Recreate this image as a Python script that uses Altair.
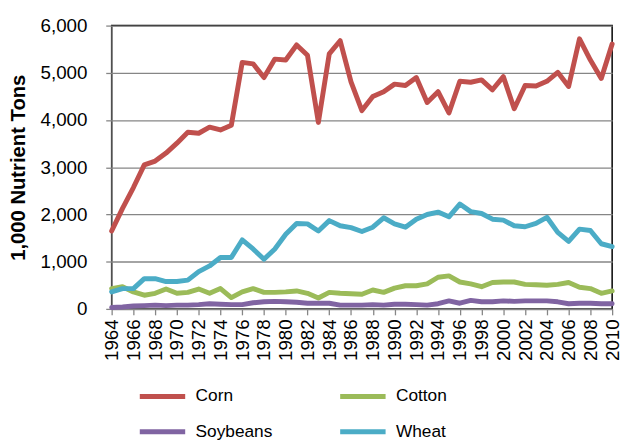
import altair as alt
import pandas as pd

years = list(range(1964, 2011))

corn = [1650, 2130, 2570, 3050, 3130, 3300, 3510, 3740, 3720, 3850, 3790, 3890,
        5220, 5190, 4900, 5290, 5270, 5590, 5370, 3950, 5400, 5680, 4810, 4200,
        4500, 4600, 4760, 4730, 4900, 4370, 4600, 4150, 4820, 4800, 4850, 4640,
        4920, 4240, 4730, 4720, 4820, 5010, 4710, 5720, 5270, 4880, 5610]
cotton = [430, 470, 360, 290, 330, 420, 330, 350, 420, 330, 430, 240,
          360, 430, 350, 350, 360, 380, 330, 230, 350, 330, 320, 310,
          400, 350, 440, 490, 490, 530, 670, 700, 570, 530, 470, 560,
          570, 570, 520, 510, 500, 520, 560, 460, 430, 330, 380]
soybeans = [30, 40, 60, 70, 80, 70, 80, 80, 90, 110, 100, 90,
            90, 130, 150, 160, 150, 140, 120, 120, 120, 80, 80, 80,
            90, 80, 100, 100, 90, 80, 110, 170, 120, 180, 150, 150,
            170, 160, 170, 170, 170, 150, 110, 120, 120, 110, 110]
wheat = [360, 430, 430, 640, 640, 580, 580, 610, 790, 910, 1090, 1090,
         1460, 1270, 1050, 1270, 1580, 1810, 1800, 1650, 1870, 1760, 1720, 1640,
         1730, 1930, 1800, 1730, 1900, 2000, 2050, 1950, 2220, 2060, 2020, 1900,
         1880, 1760, 1740, 1810, 1940, 1620, 1430, 1690, 1660, 1380, 1320]

crops = ["Corn", "Cotton", "Soybeans", "Wheat"]
colors = ["#C0504D", "#9BBB59", "#8064A2", "#4BACC6"]
x_ticks = list(range(1964, 2011, 2))
y_ticks = [0, 1000, 2000, 3000, 4000, 5000, 6000]

rows = []
for name, vals in zip(crops, [corn, cotton, soybeans, wheat]):
    for yr, v in zip(years, vals):
        rows.append({"Year": yr, "Crop": name, "Tons": v})
df = pd.DataFrame(rows)

FONT = "Liberation Sans"
GRID = "#868686"

chart = alt.Chart(df).mark_line(strokeWidth=5, strokeJoin="round", strokeCap="round").encode(
    x=alt.X("Year:Q",
            scale=alt.Scale(domain=[1964, 2010], nice=False, zero=False),
            axis=alt.Axis(values=x_ticks, format="d", labelAngle=270, labelAlign="right",
                          labelBaseline="middle", labelFontSize=19, labelColor="black",
                          labelFont=FONT, labelPadding=4, grid=False, tickSize=6,
                          tickColor=GRID, domainColor=GRID, domainWidth=1.5, tickWidth=1.3,
                          title=None, labelOverlap=False, labelFlush=False)),
    y=alt.Y("Tons:Q",
            scale=alt.Scale(domain=[0, 6000], nice=False),
            axis=alt.Axis(values=y_ticks, format=",d", labelFontSize=19, labelColor="black",
                          labelFont=FONT, labelPadding=19, tickSize=6, tickColor=GRID,
                          tickWidth=1.3, domainColor=GRID, domainWidth=1.5,
                          gridColor=GRID, gridWidth=1.3, gridOpacity=1,
                          title="1,000 Nutrient Tons", titleFont=FONT, titleFontSize=20.5,
                          titleFontWeight="bold", titleColor="black", titlePadding=12)),
    color=alt.Color("Crop:N", scale=alt.Scale(domain=crops, range=colors),
                    legend=alt.Legend(orient="none", legendX=26, legendY=350, columns=2,
                                      direction="horizontal",
                                      title=None, symbolType="stroke", symbolSize=2116,
                                      symbolStrokeWidth=5, labelFontSize=17.5, labelFont=FONT,
                                      labelColor="black", labelOffset=8, columnPadding=58,
                                      rowPadding=-9, labelLimit=200))
).properties(
    width=507, height=287,
    autosize=alt.AutoSizeParams(type="none"),
    padding={"left": 105, "top": 15, "right": 11, "bottom": 131},
).configure_view(stroke="black", strokeWidth=1.5)

chart.save("out.html", embed_options={"renderer": "svg", "actions": False})
